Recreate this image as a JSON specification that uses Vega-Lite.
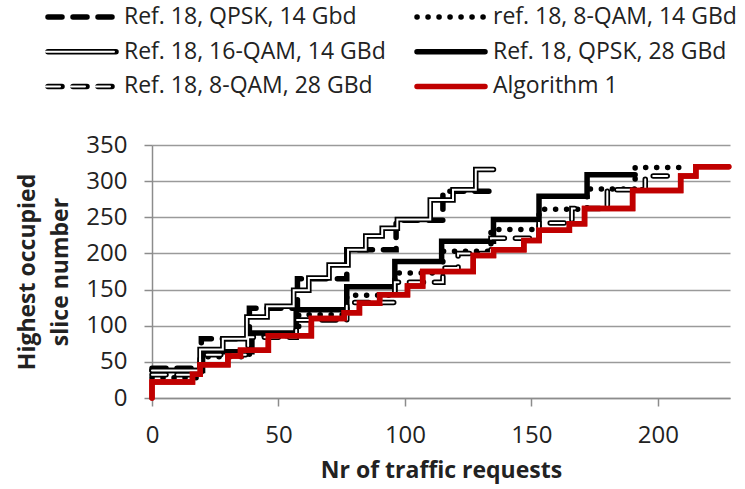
{
  "$schema": "https://vega.github.io/schema/vega-lite/v6.json",
  "width": 578,
  "height": 253,
  "autosize": {"type": "none"},
  "padding": {"left": 152, "top": 145, "right": 15, "bottom": 91},
  "background": "white",
  "config": {"font": "Open Sans", "view": {"stroke": null}},
  "data": {"values": [
    {"s": "Ref. 18, QPSK, 14 Gbd", "i": 0, "x": 0, "y": 41},
    {"s": "Ref. 18, QPSK, 14 Gbd", "i": 1, "x": 19.5, "y": 82},
    {"s": "Ref. 18, QPSK, 14 Gbd", "i": 2, "x": 38.5, "y": 124},
    {"s": "Ref. 18, QPSK, 14 Gbd", "i": 3, "x": 57.5, "y": 165},
    {"s": "Ref. 18, QPSK, 14 Gbd", "i": 4, "x": 77, "y": 205},
    {"s": "Ref. 18, QPSK, 14 Gbd", "i": 5, "x": 96.5, "y": 246},
    {"s": "Ref. 18, QPSK, 14 Gbd", "i": 6, "x": 115, "y": 286},
    {"s": "Ref. 18, QPSK, 14 Gbd", "i": 7, "x": 134, "y": 286},

    {"s": "ref. 18, 8-QAM, 14 GBd", "i": 0, "x": 0, "y": 28},
    {"s": "ref. 18, 8-QAM, 14 GBd", "i": 1, "x": 19.5, "y": 57},
    {"s": "ref. 18, 8-QAM, 14 GBd", "i": 2, "x": 38.5, "y": 86},
    {"s": "ref. 18, 8-QAM, 14 GBd", "i": 3, "x": 58, "y": 115},
    {"s": "ref. 18, 8-QAM, 14 GBd", "i": 4, "x": 77, "y": 142},
    {"s": "ref. 18, 8-QAM, 14 GBd", "i": 5, "x": 96, "y": 173},
    {"s": "ref. 18, 8-QAM, 14 GBd", "i": 6, "x": 115, "y": 203},
    {"s": "ref. 18, 8-QAM, 14 GBd", "i": 7, "x": 134, "y": 233},
    {"s": "ref. 18, 8-QAM, 14 GBd", "i": 8, "x": 153, "y": 261},
    {"s": "ref. 18, 8-QAM, 14 GBd", "i": 9, "x": 172, "y": 289},
    {"s": "ref. 18, 8-QAM, 14 GBd", "i": 10, "x": 191, "y": 319},
    {"s": "ref. 18, 8-QAM, 14 GBd", "i": 11, "x": 210, "y": 319},

    {"s": "Ref. 18, 16-QAM, 14 GBd", "i": 0, "x": 0, "y": 38},
    {"s": "Ref. 18, 16-QAM, 14 GBd", "i": 1, "x": 19, "y": 67},
    {"s": "Ref. 18, 16-QAM, 14 GBd", "i": 2, "x": 28, "y": 82},
    {"s": "Ref. 18, 16-QAM, 14 GBd", "i": 3, "x": 37.5, "y": 112},
    {"s": "Ref. 18, 16-QAM, 14 GBd", "i": 4, "x": 45.5, "y": 127},
    {"s": "Ref. 18, 16-QAM, 14 GBd", "i": 5, "x": 56, "y": 149},
    {"s": "Ref. 18, 16-QAM, 14 GBd", "i": 6, "x": 62, "y": 166},
    {"s": "Ref. 18, 16-QAM, 14 GBd", "i": 7, "x": 70, "y": 184},
    {"s": "Ref. 18, 16-QAM, 14 GBd", "i": 8, "x": 77.5, "y": 205},
    {"s": "Ref. 18, 16-QAM, 14 GBd", "i": 9, "x": 84.5, "y": 224},
    {"s": "Ref. 18, 16-QAM, 14 GBd", "i": 10, "x": 91, "y": 235},
    {"s": "Ref. 18, 16-QAM, 14 GBd", "i": 11, "x": 97, "y": 247},
    {"s": "Ref. 18, 16-QAM, 14 GBd", "i": 12, "x": 110, "y": 274},
    {"s": "Ref. 18, 16-QAM, 14 GBd", "i": 13, "x": 119, "y": 288},
    {"s": "Ref. 18, 16-QAM, 14 GBd", "i": 14, "x": 128, "y": 316},
    {"s": "Ref. 18, 16-QAM, 14 GBd", "i": 15, "x": 135, "y": 316},

    {"s": "Ref. 18, QPSK, 28 GBd", "i": 0, "x": 0, "y": 38},
    {"s": "Ref. 18, QPSK, 28 GBd", "i": 1, "x": 20, "y": 64},
    {"s": "Ref. 18, QPSK, 28 GBd", "i": 2, "x": 39.5, "y": 90},
    {"s": "Ref. 18, QPSK, 28 GBd", "i": 3, "x": 57, "y": 122},
    {"s": "Ref. 18, QPSK, 28 GBd", "i": 4, "x": 77, "y": 154},
    {"s": "Ref. 18, QPSK, 28 GBd", "i": 5, "x": 96, "y": 189},
    {"s": "Ref. 18, QPSK, 28 GBd", "i": 6, "x": 114.5, "y": 217},
    {"s": "Ref. 18, QPSK, 28 GBd", "i": 7, "x": 135, "y": 247},
    {"s": "Ref. 18, QPSK, 28 GBd", "i": 8, "x": 153, "y": 279},
    {"s": "Ref. 18, QPSK, 28 GBd", "i": 9, "x": 172, "y": 309},
    {"s": "Ref. 18, QPSK, 28 GBd", "i": 10, "x": 191, "y": 309},

    {"s": "Ref. 18, 8-QAM, 28 GBd", "i": 0, "x": 0, "y": 32},
    {"s": "Ref. 18, 8-QAM, 28 GBd", "i": 1, "x": 19, "y": 60},
    {"s": "Ref. 18, 8-QAM, 28 GBd", "i": 2, "x": 38, "y": 84},
    {"s": "Ref. 18, 8-QAM, 28 GBd", "i": 3, "x": 57, "y": 108},
    {"s": "Ref. 18, 8-QAM, 28 GBd", "i": 4, "x": 77, "y": 132},
    {"s": "Ref. 18, 8-QAM, 28 GBd", "i": 5, "x": 96, "y": 160},
    {"s": "Ref. 18, 8-QAM, 28 GBd", "i": 6, "x": 115, "y": 180},
    {"s": "Ref. 18, 8-QAM, 28 GBd", "i": 7, "x": 121, "y": 200},
    {"s": "Ref. 18, 8-QAM, 28 GBd", "i": 8, "x": 134, "y": 221},
    {"s": "Ref. 18, 8-QAM, 28 GBd", "i": 9, "x": 153, "y": 242},
    {"s": "Ref. 18, 8-QAM, 28 GBd", "i": 10, "x": 166, "y": 262},
    {"s": "Ref. 18, 8-QAM, 28 GBd", "i": 11, "x": 180, "y": 288},
    {"s": "Ref. 18, 8-QAM, 28 GBd", "i": 12, "x": 195, "y": 307},
    {"s": "Ref. 18, 8-QAM, 28 GBd", "i": 13, "x": 205, "y": 307},

    {"s": "Algorithm 1", "i": 0, "x": 0, "y": 0},
    {"s": "Algorithm 1", "i": 1, "x": 0, "y": 22},
    {"s": "Algorithm 1", "i": 2, "x": 16, "y": 33},
    {"s": "Algorithm 1", "i": 3, "x": 19, "y": 46},
    {"s": "Algorithm 1", "i": 4, "x": 30, "y": 58},
    {"s": "Algorithm 1", "i": 5, "x": 35, "y": 66},
    {"s": "Algorithm 1", "i": 6, "x": 46, "y": 86},
    {"s": "Algorithm 1", "i": 7, "x": 63, "y": 110},
    {"s": "Algorithm 1", "i": 8, "x": 76, "y": 118},
    {"s": "Algorithm 1", "i": 9, "x": 82, "y": 131},
    {"s": "Algorithm 1", "i": 10, "x": 90, "y": 143},
    {"s": "Algorithm 1", "i": 11, "x": 101, "y": 155},
    {"s": "Algorithm 1", "i": 12, "x": 107, "y": 175},
    {"s": "Algorithm 1", "i": 13, "x": 127, "y": 197},
    {"s": "Algorithm 1", "i": 14, "x": 135, "y": 205},
    {"s": "Algorithm 1", "i": 15, "x": 147, "y": 218},
    {"s": "Algorithm 1", "i": 16, "x": 153, "y": 232},
    {"s": "Algorithm 1", "i": 17, "x": 165, "y": 241},
    {"s": "Algorithm 1", "i": 18, "x": 171, "y": 262},
    {"s": "Algorithm 1", "i": 19, "x": 190, "y": 287},
    {"s": "Algorithm 1", "i": 20, "x": 209, "y": 307},
    {"s": "Algorithm 1", "i": 21, "x": 215, "y": 320},
    {"s": "Algorithm 1", "i": 22, "x": 228, "y": 320}
  ]},
  "encoding": {
    "x": {
      "field": "x", "type": "quantitative",
      "scale": {"domain": [0, 228.5], "nice": false, "zero": false},
      "axis": {
        "values": [0, 50, 100, 150, 200], "grid": false,
        "domainColor": "#8c8c8c", "domainWidth": 1.5,
        "tickColor": "#8c8c8c", "tickWidth": 1.5, "tickSize": 8,
        "labelFont": "Open Sans", "labelFontSize": 24, "labelColor": "#222222", "labelPadding": 17,
        "labelFlush": false,
        "title": "Nr of traffic requests", "titleFont": "Open Sans", "titleFontSize": 23,
        "titleFontWeight": "bold", "titleColor": "#222222", "titlePadding": 12
      }
    },
    "y": {
      "field": "y", "type": "quantitative",
      "scale": {"domain": [0, 350], "nice": false},
      "axis": {
        "values": [0, 50, 100, 150, 200, 250, 300, 350], "grid": true,
        "gridColor": "#9a9a9a", "gridWidth": 1.5,
        "domainColor": "#8c8c8c", "domainWidth": 1.5,
        "tickColor": "#8c8c8c", "tickWidth": 1.5, "tickSize": 8,
        "labelFont": "Open Sans", "labelFontSize": 24, "labelColor": "#222222", "labelPadding": 17,
        "labelFlush": false,
        "title": ["Highest occupied", "slice number"], "titleFont": "Open Sans", "titleFontSize": 23,
        "titleFontWeight": "bold", "titleColor": "#222222", "titleLineHeight": 33, "titlePadding": 13
      }
    },
    "order": {"field": "i", "type": "quantitative"}
  },
  "layer": [
    {
      "mark": {"type": "line", "interpolate": "step-after", "strokeWidth": 5.5, "strokeCap": "round", "strokeJoin": "miter"},
      "encoding": {
        "color": {
          "field": "s", "type": "nominal",
          "scale": {
            "domain": ["Ref. 18, QPSK, 14 Gbd", "Ref. 18, 16-QAM, 14 GBd", "Ref. 18, 8-QAM, 28 GBd", "ref. 18, 8-QAM, 14 GBd", "Ref. 18, QPSK, 28 GBd", "Algorithm 1"],
            "range": ["#000000", "#000000", "#000000", "#000000", "#000000", "#c00000"]
          },
          "legend": {
            "orient": "none", "legendX": -107, "legendY": -143, "columns": 2, "title": null,
            "symbolType": "stroke", "symbolSize": 4624, "symbolStrokeWidth": 5.5,
            "labelFont": "Open Sans", "labelFontSize": 23, "labelColor": "#222222", "labelLimit": 400,
            "labelOffset": 5, "clipHeight": 30, "rowPadding": 4.7, "columnPadding": 28,
            "encode": {"symbols": {"update": {"strokeCap": {"value": "round"}}}}
          }
        },
        "strokeDash": {
          "field": "s", "type": "nominal",
          "scale": {
            "domain": ["Ref. 18, QPSK, 14 Gbd", "Ref. 18, 16-QAM, 14 GBd", "Ref. 18, 8-QAM, 28 GBd", "ref. 18, 8-QAM, 14 GBd", "Ref. 18, QPSK, 28 GBd", "Algorithm 1"],
            "range": [[14, 11], [1, 0], [14, 11], [0.1, 10.9], [1, 0], [1, 0]]
          },
          "legend": {
            "orient": "none", "legendX": -107, "legendY": -143, "columns": 2, "title": null,
            "symbolType": "stroke", "symbolSize": 4624, "symbolStrokeWidth": 5.5,
            "labelFont": "Open Sans", "labelFontSize": 23, "labelColor": "#222222", "labelLimit": 400,
            "labelOffset": 5, "clipHeight": 30, "rowPadding": 4.7, "columnPadding": 28,
            "encode": {"symbols": {"update": {"strokeCap": {"value": "round"}}}}
          }
        }
      }
    },
    {
      "transform": [{"filter": "datum.s === 'Ref. 18, 16-QAM, 14 GBd' || datum.s === 'Ref. 18, 8-QAM, 28 GBd'"}],
      "mark": {"type": "line", "interpolate": "step-after", "strokeWidth": 2, "strokeCap": "round", "strokeJoin": "miter"},
      "encoding": {
        "color": {
          "field": "s", "type": "nominal",
          "scale": {
            "domain": ["Ref. 18, QPSK, 14 Gbd", "Ref. 18, 16-QAM, 14 GBd", "Ref. 18, 8-QAM, 28 GBd"],
            "range": ["transparent", "#ffffff", "#ffffff"]
          },
          "legend": {
            "orient": "none", "legendX": -107, "legendY": -143, "columns": 1, "title": null,
            "symbolType": "stroke", "symbolSize": 4624, "symbolStrokeWidth": 2,
            "labelFontSize": 23, "labelExpr": "''", "labelOffset": 5,
            "clipHeight": 30, "rowPadding": 4.7,
            "encode": {"symbols": {"update": {"strokeCap": {"value": "round"}}}}
          }
        },
        "strokeDash": {
          "field": "s", "type": "nominal",
          "scale": {
            "domain": ["Ref. 18, QPSK, 14 Gbd", "Ref. 18, 16-QAM, 14 GBd", "Ref. 18, 8-QAM, 28 GBd"],
            "range": [[1, 0], [1, 0], [14, 11]]
          },
          "legend": {
            "orient": "none", "legendX": -107, "legendY": -143, "columns": 1, "title": null,
            "symbolType": "stroke", "symbolSize": 4624, "symbolStrokeWidth": 2,
            "labelFontSize": 23, "labelExpr": "''", "labelOffset": 5,
            "clipHeight": 30, "rowPadding": 4.7,
            "encode": {"symbols": {"update": {"strokeCap": {"value": "round"}}}}
          }
        }
      }
    },
    {
      "transform": [{"filter": "datum.s === 'Algorithm 1'"}],
      "mark": {"type": "line", "interpolate": "step-after", "strokeWidth": 5.5, "strokeCap": "round", "strokeJoin": "miter", "color": "#c00000"},
      "encoding": {}
    }
  ],
  "resolve": {
    "scale": {"color": "independent", "strokeDash": "independent"},
    "legend": {"color": "independent", "strokeDash": "independent"}
  }
}
